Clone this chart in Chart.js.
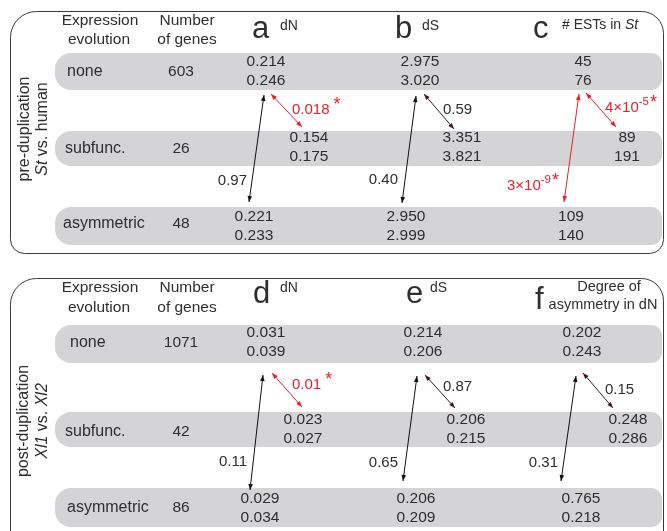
<!DOCTYPE html>
<html><head><meta charset="utf-8">
<script src="https://cdn.jsdelivr.net/npm/chart.js@4.4.0/dist/chart.umd.min.js"></script>
<style>html,body{margin:0;padding:0;background:#fff;overflow:hidden}#wrap{width:667px;height:531px}</style>
</head><body><div id="wrap"><canvas id="c" width="667" height="531"></canvas></div>
<script>
// ---------- DATA ----------
const categories = ['none', 'subfunc.', 'asymmetric'];
const preGenes = [603, 26, 48];
const preDN = [[0.214, 0.246], [0.154, 0.175], [0.221, 0.233]];
const preDS = [[2.975, 3.020], [3.351, 3.821], [2.950, 2.999]];
const preESTs = [[45, 76], [89, 191], [109, 140]];
const postGenes = [1071, 42, 86];
const postDN = [[0.031, 0.039], [0.023, 0.027], [0.029, 0.034]];
const postDS = [[0.214, 0.206], [0.206, 0.215], [0.206, 0.209]];
const postAsym = [[0.202, 0.243], [0.248, 0.286], [0.765, 0.218]];
// p-values per column: [none vs subfunc., none vs asymmetric]
const prePValues = [['0.018', '0.97'], ['0.59', '0.40'], ['4×10^-5', '3×10^-9']];
const preSignificant = [[true, false], [false, false], [true, true]];
const postPValues = [['0.01', '0.11'], ['0.87', '0.65'], ['0.15', '0.31']];
const postSignificant = [[true, false], [false, false], [false, false]];
const headerLabels = ['Expression', 'evolution', 'Number', 'of genes'];
const panelLetters = [['a', 'b', 'c'], ['d', 'e', 'f']];

// ---------- LAYOUT / STYLE ----------
const FONT = "'Liberation Sans', Arial, Helvetica, sans-serif";
const TXT = '#2e2e2e';
const RED = '#e6202a';
const BAND = '#d4d4d6';
const fmt3 = v => v.toFixed(3);
const fmt0 = v => String(v);

const panels = [
  {
    box: [10, 11, 653, 242, [26, 22, 14, 14]],
    hdrY: [21, 40],
    rows: [
      { band: [53, 90], y: [62, 81], labelX: 67, labelY: 72 },
      { band: [131, 166], y: [138, 157], labelX: 65, labelY: 149 },
      { band: [207, 245], y: [217, 236], labelX: 63, labelY: 224 }
    ],
    genesX: 181,
    cols: [
      { x: [266, 309, 254], fmt: fmt3, letterX: 252, letterY: 38, title: [{ t: 'dN', x: 280, y: 26 }],
        shortA: [271, 94, 302, 127], longA: [264, 95, 249, 202], shortL: [292, 110, 'left'], longL: [247, 181, 'right'] },
      { x: [420, 462, 406], fmt: fmt3, letterX: 395, letterY: 38, title: [{ t: 'dS', x: 422, y: 26 }],
        shortA: [424, 94, 454, 129], longA: [416, 96, 402, 203], shortL: [443, 110, 'left'], longL: [398, 180, 'right'] },
      { x: [583, 627, 571], fmt: fmt0, letterX: 533, letterY: 38, title: [{ t: 'ESTs', x: 562, y: 25, rich: true }],
        shortA: [586, 93, 616, 127], longA: [579, 94, 564, 202], shortL: [605, 108, 'left'], longL: [507, 186, 'left'] }
    ],
    side: { x1: 25, x2: 43, y: 129 }
  },
  {
    box: [10, 278, 653, 300, [26, 22, 0, 0]],
    hdrY: [288, 308],
    rows: [
      { band: [325, 363], y: [333, 352], labelX: 70, labelY: 343 },
      { band: [412, 447], y: [420, 439], labelX: 65, labelY: 432 },
      { band: [488, 527], y: [499, 518], labelX: 67, labelY: 508 }
    ],
    genesX: 181,
    cols: [
      { x: [266, 303, 260], fmt: fmt3, letterX: 253, letterY: 303, title: [{ t: 'dN', x: 280, y: 288 }],
        shortA: [272, 373, 302, 407], longA: [263, 375, 250, 490], shortL: [292, 385, 'left'], longL: [247, 462, 'right'] },
      { x: [423, 466, 416], fmt: fmt3, letterX: 406, letterY: 303, title: [{ t: 'dS', x: 430, y: 288 }],
        shortA: [425, 375, 455, 408], longA: [417, 376, 403, 481], shortL: [443, 387, 'left'], longL: [398, 463, 'right'] },
      { x: [582, 628, 581], fmt: fmt3, letterX: 535, letterY: 309, title: [{ t: 'Degree of', cx: 609, y: 287 }, { t: 'asymmetry in dN', cx: 603, y: 305 }],
        shortA: [583, 373, 613, 408], longA: [576, 376, 561, 481], shortL: [605, 390, 'left'], longL: [558, 463, 'right'] }
    ],
    side: { x1: 24, x2: 43, y: 421 }
  }
];

const panelData = [
  { genes: preGenes, cols: [preDN, preDS, preESTs], p: prePValues, sig: preSignificant },
  { genes: postGenes, cols: [postDN, postDS, postAsym], p: postPValues, sig: postSignificant }
];

// ---------- DATASETS (arrows through the scales) ----------
const datasets = [];
panels.forEach((pl, pi) => {
  pl.cols.forEach((c, ci) => {
    const sig = panelData[pi].sig[ci];
    [[c.shortA, sig[0], true], [c.longA, sig[1], false]].forEach(([a, s, isShort]) => {
      datasets.push({
        data: [{ x: a[0], y: a[1] }, { x: a[2], y: a[3] }],
        showLine: true,
        borderColor: s ? RED : (isShort ? '#3d1a1a' : '#111111'),
        borderWidth: 1,
        pointRadius: 0,
        arrow: true
      });
    });
  });
});

function richWidth(ctx, parts) {
  let w = 0;
  parts.forEach(p => { ctx.font = p.font; w += ctx.measureText(p.t).width + (p.gapBefore || 0); });
  return w;
}
function drawRich(ctx, x, y, parts, align) {
  const w = richWidth(ctx, parts);
  let sx = align === 'right' ? x - w : align === 'center' ? x - w / 2 : x;
  ctx.textAlign = 'left';
  ctx.textBaseline = 'middle';
  parts.forEach(p => {
    ctx.font = p.font;
    ctx.fillStyle = p.color || TXT;
    sx += (p.gapBefore || 0);
    ctx.fillText(p.t, sx, y + (p.dy || 0));
    sx += ctx.measureText(p.t).width;
  });
}
function pParts(str, sig) {
  const col = sig ? RED : TXT;
  const parts = [];
  if (str.includes('^')) {
    const [b, s] = str.split('^');
    parts.push({ t: b, font: '15px ' + FONT, color: col });
    parts.push({ t: s, font: '11.5px ' + FONT, color: col, dy: -6 });
    if (sig) parts.push({ t: '*', font: '18px ' + FONT, color: col, dy: -5, gapBefore: 1 });
  } else {
    parts.push({ t: str, font: '15px ' + FONT, color: col });
    if (sig) parts.push({ t: '*', font: '18px ' + FONT, color: col, dy: -5, gapBefore: 4 });
  }
  return parts;
}

const diagramPlugin = {
  id: 'diagram',
  beforeDatasetsDraw(chart) {
    const ctx = chart.ctx, X = chart.scales.x, Y = chart.scales.y;
    ctx.save();
    panels.forEach(pl => {
      pl.rows.forEach(r => {
        const x0 = X.getPixelForValue(55), x1 = X.getPixelForValue(662);
        const y0 = Y.getPixelForValue(r.band[0]), y1 = Y.getPixelForValue(r.band[1]);
        ctx.fillStyle = BAND;
        ctx.beginPath();
        ctx.roundRect(x0, y0, x1 - x0, y1 - y0, [16, 11, 11, 16]);
        ctx.fill();
      });
      const b = pl.box;
      const bx = X.getPixelForValue(b[0]), by = Y.getPixelForValue(b[1]);
      const bw = X.getPixelForValue(b[0] + b[2]) - bx, bh = Y.getPixelForValue(b[1] + b[3]) - by;
      ctx.strokeStyle = '#3a3a3a';
      ctx.lineWidth = 1;
      ctx.beginPath();
      ctx.roundRect(bx + 0.5, by + 0.5, bw, bh, b[4]);
      ctx.stroke();
    });
    ctx.restore();
  },
  afterDatasetsDraw(chart) {
    const ctx = chart.ctx, X = chart.scales.x, Y = chart.scales.y;
    ctx.save();
    chart.data.datasets.forEach((ds, i) => {
      if (!ds.arrow) return;
      const pts = chart.getDatasetMeta(i).data;
      const ends = [[pts[0], pts[1]], [pts[1], pts[0]]];
      ends.forEach(([tip, from]) => {
        const ang = Math.atan2(tip.y - from.y, tip.x - from.x);
        const L = 6, Wd = 2.3;
        ctx.fillStyle = ds.borderColor;
        ctx.beginPath();
        ctx.moveTo(tip.x, tip.y);
        ctx.lineTo(tip.x - L * Math.cos(ang) + Wd * Math.sin(ang), tip.y - L * Math.sin(ang) - Wd * Math.cos(ang));
        ctx.lineTo(tip.x - L * Math.cos(ang) - Wd * Math.sin(ang), tip.y - L * Math.sin(ang) + Wd * Math.cos(ang));
        ctx.closePath();
        ctx.fill();
      });
    });

    const px = v => X.getPixelForValue(v), py = v => Y.getPixelForValue(v);
    ctx.textBaseline = 'middle';
    panels.forEach((pl, pi) => {
      const pd = panelData[pi];
      ctx.fillStyle = TXT;
      ctx.font = '15.5px ' + FONT;
      ctx.textAlign = 'center';
      ctx.fillText(headerLabels[0], px(100), py(pl.hdrY[0]));
      ctx.fillText(headerLabels[1], px(99), py(pl.hdrY[1]));
      ctx.fillText(headerLabels[2], px(187), py(pl.hdrY[0]));
      ctx.fillText(headerLabels[3], px(187), py(pl.hdrY[1]));
      pl.rows.forEach((r, ri) => {
        ctx.fillStyle = TXT;
        ctx.font = '16px ' + FONT;
        ctx.textAlign = 'left';
        ctx.fillText(categories[ri], px(r.labelX), py(r.labelY));
        ctx.textAlign = 'center';
        ctx.font = '15.5px ' + FONT;
        ctx.fillText(String(pd.genes[ri]), px(pl.genesX), py(r.labelY));
      });
      pl.cols.forEach((c, ci) => {
        ctx.fillStyle = TXT;
        ctx.textAlign = 'left';
        ctx.textBaseline = 'alphabetic';
        ctx.font = '31px ' + FONT;
        ctx.fillText(panelLetters[pi][ci], px(c.letterX), py(c.letterY));
        ctx.textBaseline = 'middle';
        c.title.forEach(t => {
          if (t.rich) {
            drawRich(ctx, px(t.x), py(t.y), [
              { t: '# ESTs in ', font: '14px ' + FONT },
              { t: 'St', font: 'italic 14px ' + FONT }
            ], 'left');
          } else if (t.cx !== undefined) {
            ctx.fillStyle = TXT; ctx.font = '14.5px ' + FONT; ctx.textAlign = 'center';
            ctx.fillText(t.t, px(t.cx), py(t.y));
          } else {
            ctx.fillStyle = TXT; ctx.font = '14px ' + FONT; ctx.textAlign = 'left';
            ctx.fillText(t.t, px(t.x), py(t.y));
          }
        });
        const vals = pd.cols[ci];
        ctx.font = '15.5px ' + FONT;
        ctx.textAlign = 'center';
        ctx.fillStyle = TXT;
        pl.rows.forEach((r, ri) => {
          ctx.fillText(c.fmt(vals[ri][0]), px(c.x[ri]), py(r.y[0]));
          ctx.fillText(c.fmt(vals[ri][1]), px(c.x[ri]), py(r.y[1]));
        });
        drawRich(ctx, px(c.shortL[0]), py(c.shortL[1]), pParts(pd.p[ci][0], pd.sig[ci][0]), c.shortL[2]);
        drawRich(ctx, px(c.longL[0]), py(c.longL[1]), pParts(pd.p[ci][1], pd.sig[ci][1]), c.longL[2]);
      });
      const s = pl.side;
      ctx.save();
      ctx.translate(px(s.x1), py(s.y));
      ctx.rotate(-Math.PI / 2);
      ctx.fillStyle = TXT; ctx.font = '16px ' + FONT; ctx.textAlign = 'center'; ctx.textBaseline = 'middle';
      ctx.fillText(pi === 0 ? 'pre-duplication' : 'post-duplication', 0, 0);
      ctx.restore();
      ctx.save();
      ctx.translate(px(s.x2), py(s.y));
      ctx.rotate(-Math.PI / 2);
      const parts = pi === 0
        ? [{ t: 'St', font: 'italic 16px ' + FONT }, { t: ' vs. human', font: '16px ' + FONT }]
        : [{ t: 'Xl1', font: 'italic 16px ' + FONT }, { t: ' vs. ', font: '16px ' + FONT }, { t: 'Xl2', font: 'italic 16px ' + FONT }];
      drawRich(ctx, 0, 0, parts, 'center');
      ctx.restore();
    });
    ctx.restore();
  }
};

new Chart(document.getElementById('c'), {
  type: 'scatter',
  data: { datasets },
  options: {
    responsive: false,
    animation: false,
    events: [],
    layout: { padding: 0 },
    plugins: { legend: { display: false }, tooltip: { enabled: false } },
    scales: {
      x: { type: 'linear', min: 0, max: 667, display: false },
      y: { type: 'linear', min: 0, max: 531, reverse: true, display: false }
    }
  },
  plugins: [diagramPlugin]
});
</script>
</body></html>
